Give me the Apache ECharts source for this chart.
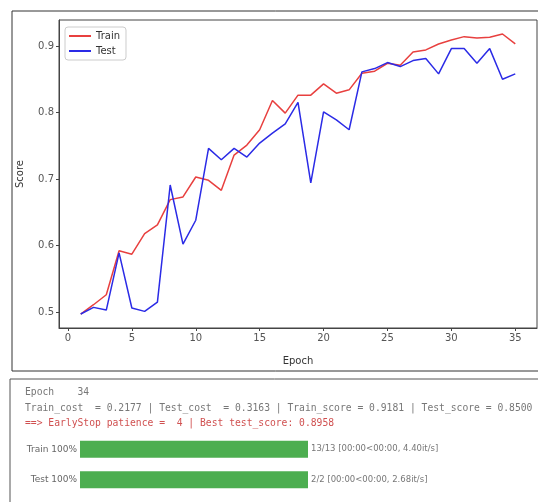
<!DOCTYPE html>
<html>
<head>
<meta charset="utf-8">
<script src="https://cdn.jsdelivr.net/npm/echarts@6/dist/echarts.min.js"></script>
<style>
    html, body { margin: 0; padding: 0; background: #fff; }
    #chart { width: 538px; height: 502px; }
</style>
</head>
<body>
<div id="chart"></div>
<script>
'use strict';

// score per epoch
const epochs = [];
for (let i = 1; i <= 35; i++) epochs.push(i);
const trainScore = [0.497, 0.511, 0.526, 0.592, 0.587, 0.618, 0.631, 0.669, 0.673, 0.703,
    0.698, 0.683, 0.736, 0.751, 0.774, 0.818, 0.799, 0.826, 0.826, 0.843,
    0.829, 0.834, 0.859, 0.862, 0.874, 0.871, 0.891, 0.894, 0.903, 0.909,
    0.914, 0.912, 0.913, 0.918, 0.903];
const testScore = [0.497, 0.507, 0.503, 0.589, 0.506, 0.501, 0.515, 0.691, 0.602, 0.638,
    0.746, 0.729, 0.746, 0.733, 0.754, 0.769, 0.783, 0.815, 0.694, 0.801,
    0.789, 0.774, 0.861, 0.866, 0.875, 0.869, 0.878, 0.881, 0.858, 0.896,
    0.896, 0.874, 0.896, 0.850, 0.858];
const xTicks = [0, 5, 10, 15, 20, 25, 30, 35];
const yTicks = [0.5, 0.6, 0.7, 0.8, 0.9];

// console output below the figure
const logLines = [
    'Epoch    34',
    'Train_cost  = 0.2177 | Test_cost  = 0.3163 | Train_score = 0.9181 | Test_score = 0.8500'
];
const logAlert = '==> EarlyStop patience =  4 | Best test_score: 0.8958';
const barNames = ['Train', 'Test'];
const barPercent = [100, 100];
const barSteps = ['13/13', '2/2'];
const barRates = ['4.40it/s', '2.68it/s'];

const chart = echarts.init(document.getElementById('chart'));

const mono = '"DejaVu Sans Mono", monospace';
const sans = '"DejaVu Sans", sans-serif';

const option = {
    animation: false,
    backgroundColor: '#fff',
    grid: [
        {left: 59, top: 20, right: 1, bottom: 174, show: true, borderColor: '#444', borderWidth: 1},
        {left: 80, top: 434, width: 228, height: 61}
    ],
    legend: {
        orient: 'vertical',
        left: 65, top: 27,
        padding: [4, 6, 4, 4],
        icon: 'rect',
        itemWidth: 22, itemHeight: 2, itemGap: 5,
        borderColor: '#ccc', borderWidth: 1, borderRadius: 3,
        backgroundColor: '#fff',
        textStyle: {fontSize: 10, color: '#333', fontFamily: sans},
        data: ['Train', 'Test']
    },
    xAxis: [{
        type: 'value', gridIndex: 0,
        min: -0.7, max: 36.7,
        name: 'Epoch', nameLocation: 'middle', nameGap: 28,
        nameTextStyle: {fontSize: 10, color: '#333', fontFamily: sans},
        splitLine: {show: false},
        axisLine: {onZero: false, lineStyle: {color: '#444'}},
        axisTick: {inside: false, length: 3, customValues: xTicks, lineStyle: {color: '#444'}},
        axisLabel: {customValues: xTicks, fontSize: 10, color: '#555', margin: 5, fontFamily: sans}
    }, {
        type: 'value', gridIndex: 1, min: 0, max: 100, show: false
    }],
    yAxis: [{
        type: 'value', gridIndex: 0,
        min: 0.476, max: 0.939,
        name: 'Score', nameLocation: 'middle', nameGap: 34,
        nameTextStyle: {fontSize: 10, color: '#333', fontFamily: sans},
        splitLine: {show: false},
        axisLine: {show: true, onZero: false, lineStyle: {color: '#444'}},
        axisTick: {show: true, inside: false, length: 3, customValues: yTicks, lineStyle: {color: '#444'}},
        axisLabel: {customValues: yTicks, fontSize: 10, color: '#555', margin: 5, fontFamily: sans,
            formatter: v => v.toFixed(1)}
    }, {
        type: 'category', gridIndex: 1, inverse: true,
        data: barNames,
        axisLine: {show: false}, axisTick: {show: false},
        axisLabel: {
            margin: 3, fontSize: 9, color: '#666', fontFamily: sans,
            formatter: (v, i) => v + ' ' + barPercent[i] + '%'
        }
    }],
    series: [{
        name: 'Train', type: 'line',
        xAxisIndex: 0, yAxisIndex: 0,
        symbol: 'none',
        lineStyle: {color: '#e8403f', width: 1.5},
        itemStyle: {color: '#e8403f'},
        data: epochs.map((e, i) => [e, trainScore[i]])
    }, {
        name: 'Test', type: 'line',
        xAxisIndex: 0, yAxisIndex: 0,
        symbol: 'none',
        lineStyle: {color: '#2b2be6', width: 1.5},
        itemStyle: {color: '#2b2be6'},
        data: epochs.map((e, i) => [e, testScore[i]])
    }, {
        type: 'bar',
        xAxisIndex: 1, yAxisIndex: 1,
        barWidth: 17,
        itemStyle: {color: '#4cae50'},
        label: {
            show: true, position: 'right', distance: 3,
            fontSize: 8.5, color: '#777', fontFamily: sans,
            formatter: p => barSteps[p.dataIndex] + ' [00:00<00:00, ' + barRates[p.dataIndex] + ']'
        },
        data: barPercent
    }],
    graphic: [
        // figure frame and output frame
        {type: 'rect', shape: {x: 12, y: 11, width: 600, height: 360}, style: {fill: null, stroke: '#333', lineWidth: 1}},
        {type: 'rect', shape: {x: 10, y: 379, width: 600, height: 200}, style: {fill: null, stroke: '#555', lineWidth: 1}},
        {type: 'text', left: 25, top: 387, style: {text: logLines[0], font: '9.7px ' + mono, fill: '#777'}},
        {type: 'text', left: 25, top: 403, style: {text: logLines[1], font: '9.7px ' + mono, fill: '#777'}},
        {type: 'text', left: 25, top: 418, style: {text: logAlert, font: '9.7px ' + mono, fill: '#d05050'}}
    ]
};

chart.setOption(option);
</script>
</body>
</html>
